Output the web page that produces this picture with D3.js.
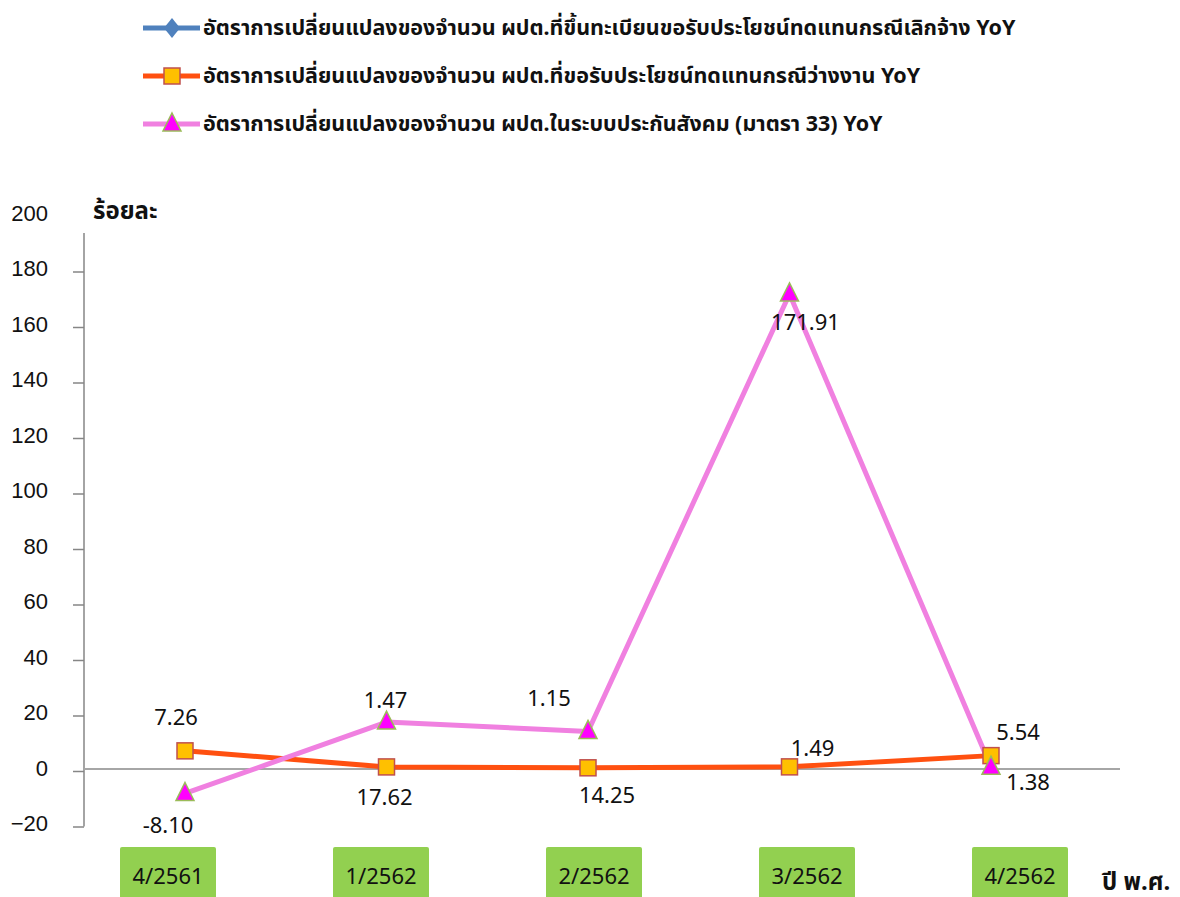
<!DOCTYPE html>
<html>
<head>
<meta charset="utf-8">
<script src="https://cdn.jsdelivr.net/npm/d3@7"></script>
<style>
  html, body { margin: 0; padding: 0; background: #fff; }
  svg { display: block; font-family: "Noto Sans", "Noto Sans Thai", "Leelawadee UI", Tahoma, sans-serif; }
</style>
</head>
<body>
<div id="chart"></div>
<script>
// Quarterly YoY change (%) of insured persons, Thai social security data
const categories = ['4/2561', '1/2562', '2/2562', '3/2562', '4/2562'];
const seriesNames = [
  'อัตราการเปลี่ยนแปลงของจำนวน ผปต.ที่ขึ้นทะเบียนขอรับประโยชน์ทดแทนกรณีเลิกจ้าง YoY',
  'อัตราการเปลี่ยนแปลงของจำนวน ผปต.ที่ขอรับประโยชน์ทดแทนกรณีว่างงาน YoY',
  'อัตราการเปลี่ยนแปลงของจำนวน ผปต.ในระบบประกันสังคม (มาตรา 33) YoY'
];
const layoffClaims = [null, null, null, null, null];
const unemploymentClaims = [7.26, 1.47, 1.15, 1.49, 5.54];
const insuredSec33 = [-8.10, 17.62, 14.25, 171.91, 1.38];
const yTicks = [-20, 0, 20, 40, 60, 80, 100, 120, 140, 160, 180, 200];

const width = 1180, height = 897;

const svg = d3.select('#chart').append('svg')
  .attr('width', width)
  .attr('height', height);

const x = d3.scalePoint().domain(categories).range([185, 991]);
const xBox = d3.scalePoint().domain(categories).range([168, 1020]);
const y = d3.scaleLinear().domain([-20, 200]).range([826.5, 216]);

const axisX = 84;
const axisTop = 233;

// Y axis
const yAxis = svg.append('g')
  .attr('transform', `translate(${axisX},0)`)
  .call(d3.axisLeft(y).tickValues(yTicks).tickSize(11).tickPadding(25).tickFormat(d3.format('d')));
yAxis.select('.domain').remove();
yAxis.selectAll('.tick line')
  .attr('stroke', '#868686')
  .attr('stroke-width', 1.5)
  .attr('display', d => d === 200 ? 'none' : null);
yAxis.selectAll('.tick text')
  .attr('fill', '#111')
  .attr('font-size', 22)
  .attr('dy', '0.2em');
svg.append('line')
  .attr('x1', axisX).attr('x2', axisX)
  .attr('y1', axisTop).attr('y2', y(-20))
  .attr('stroke', '#868686')
  .attr('stroke-width', 1.5);

// zero line
svg.append('line')
  .attr('x1', axisX).attr('x2', 1120)
  .attr('y1', y(0) - 2).attr('y2', y(0) - 2)
  .attr('stroke', '#a6a6a6')
  .attr('stroke-width', 2);

// axis titles
svg.append('text')
  .attr('x', 93).attr('y', 219)
  .attr('font-size', 24).attr('font-weight', 'bold').attr('fill', '#111')
  .text('ร้อยละ');
svg.append('text')
  .attr('x', 1102).attr('y', 890)
  .attr('font-size', 24).attr('font-weight', 'bold').attr('fill', '#111')
  .text('ปี พ.ศ.');

// category boxes
const boxes = svg.append('g').selectAll('g')
  .data(categories)
  .enter().append('g')
  .attr('transform', d => `translate(${xBox(d)},0)`);
boxes.append('rect')
  .attr('x', -48).attr('y', 847)
  .attr('width', 96).attr('height', 60)
  .attr('rx', 2)
  .attr('fill', '#92d050');
boxes.append('text')
  .attr('y', 884)
  .attr('text-anchor', 'middle')
  .attr('font-size', 22)
  .attr('fill', '#111')
  .text(d => d);

// lines
const line = d3.line()
  .defined(d => d.v != null)
  .x(d => x(d.c))
  .y(d => y(d.v));

const toPts = arr => categories.map((c, i) => ({ c, v: arr[i] }));

const series = [
  { values: layoffClaims, color: '#4f81bd', marker: 'diamond' },
  { values: unemploymentClaims, color: '#ff5010', marker: 'square',
    labelDx: [-9, -1, -39, 23, 27], labelDy: [-26, -59, -62, -11, -16] },
  { values: insuredSec33, color: '#f080e0', marker: 'triangle',
    labelDx: [-17, -2, 19, 16, 37], labelDy: [40, 83, 72, 36, 23] }
];

function drawMarker(g, type) {
  if (type === 'square') {
    g.append('rect')
      .attr('x', -8).attr('y', -8).attr('width', 16).attr('height', 16)
      .attr('fill', '#ffc000').attr('stroke', '#c0504d').attr('stroke-width', 1.5);
  } else if (type === 'triangle') {
    g.append('path')
      .attr('d', 'M0,-11 L9,7 L-9,7 Z')
      .attr('fill', '#ff00ff').attr('stroke', '#9bbb59').attr('stroke-width', 1.5);
  } else {
    g.append('path')
      .attr('d', 'M0,-10 L8,0 L0,10 L-8,0 Z')
      .attr('fill', '#4f81bd');
  }
}

series.forEach(s => {
  const pts = toPts(s.values);
  svg.append('path')
    .datum(pts)
    .attr('d', line)
    .attr('fill', 'none')
    .attr('stroke', s.color)
    .attr('stroke-width', 5)
    .attr('stroke-linejoin', 'round');
});

series.forEach(s => {
  const pts = toPts(s.values).filter(d => d.v != null);
  pts.forEach(d => {
    const g = svg.append('g').attr('transform', `translate(${x(d.c)},${y(d.v)})`);
    drawMarker(g, s.marker);
  });
});

// data labels
series.forEach(s => {
  if (!s.labelDx) return;
  toPts(s.values).forEach((d, i) => {
    svg.append('text')
      .attr('x', x(d.c) + s.labelDx[i])
      .attr('y', y(d.v) + s.labelDy[i])
      .attr('text-anchor', 'middle')
      .attr('font-size', 22)
      .attr('fill', '#111')
      .text(d.v.toFixed(2));
  });
});

// legend
const legend = svg.append('g').selectAll('g')
  .data(series)
  .enter().append('g')
  .attr('transform', (d, i) => `translate(0,${28 + i * 48})`);
legend.append('line')
  .attr('x1', 143).attr('x2', 200)
  .attr('stroke', d => d.color)
  .attr('stroke-width', 5);
legend.each(function(d) {
  const g = d3.select(this).append('g').attr('transform', 'translate(172,0)');
  drawMarker(g, d.marker);
});
legend.append('text')
  .attr('x', 203).attr('y', 7)
  .attr('font-size', 21.5).attr('font-weight', 'bold').attr('fill', '#111')
  .text((d, i) => seriesNames[i]);
</script>
</body>
</html>
